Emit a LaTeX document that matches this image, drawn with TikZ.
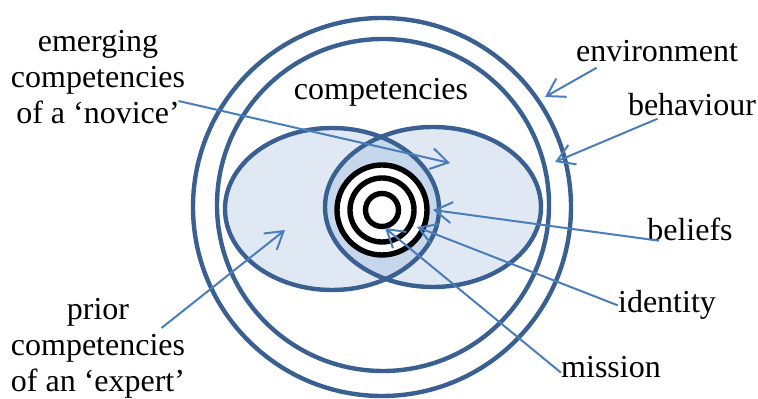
\documentclass[tikz,border=0pt]{standalone}
\usepackage{fontspec}
\setmainfont{Liberation Serif}
\usetikzlibrary{arrows.meta}
\definecolor{ringblue}{RGB}{58,96,146}
\definecolor{arrowblue}{RGB}{74,126,187}
\definecolor{setfill}{RGB}{224,232,244}
\definecolor{lensfill}{RGB}{198,214,235}

\begin{document}
\begin{tikzpicture}[
    x=0.5pt, y=-0.5pt,
    every node/.style={font=\fontsize{16}{18}\selectfont, inner sep=0pt},
    ring/.style={draw=ringblue, line width=2.2pt},
    target/.style={draw=black, line width=2.7pt, fill=white},
    txt/.style={align=center},
    arrow/.style={-{Straight Barb[length=8.5pt,width=10.5pt]}, draw=arrowblue, line width=1pt}
]
\useasboundingbox (0,0) rectangle (758,399);

% environment and behaviour
\draw[ring] (382,207) circle[radius=189];
\draw[ring] (383,205) circle[radius=166];

% the two sets of competencies
\fill[setfill] (332,209) ellipse[x radius=107, y radius=81];
\fill[setfill] (433,207) ellipse[x radius=108, y radius=80];
\begin{scope}
  \clip (332,209) ellipse[x radius=107, y radius=81];
  \fill[lensfill] (433,207) ellipse[x radius=108, y radius=80];
\end{scope}
\draw[ring] (332,209) ellipse[x radius=107, y radius=81];
\draw[ring] (433,207) ellipse[x radius=108, y radius=80];

% beliefs, identity, mission
\draw[target] (382,210) circle[radius=45];
\draw[target] (382,210) circle[radius=32];
\draw[target] (382,210) circle[radius=16.5];

% labels
\node[anchor=base] (comptxt) at (381,100) {competencies};
\node[anchor=base] (envtxt) at (657,62) {environment};
\node[anchor=base] (behtxt) at (692,116) {behaviour};
\node[anchor=base] (beltxt) at (690,241) {beliefs};
\node[anchor=base] (idtxt) at (667,313) {identity};
\node[anchor=base] (mistxt) at (611,378) {mission};
\node[txt] (novice) at (98,77) {emerging\\competencies\\of a ‘novice’};
\node[txt] (expert) at (98,348) {prior\\competencies\\of an ‘expert’};

% arrow tips
\coordinate (novtip) at (450,163);
\coordinate (envtip) at (545,97);
\coordinate (behtip) at (555,162);
\coordinate (beltip) at (433,210);
\coordinate (idtip) at (417,227);
\coordinate (mistip) at (385,228);
\coordinate (exptip) at (285,230);

\draw[arrow] ([xshift=-3.5pt,yshift=-12pt]novice.east) -- (novtip);
\draw[arrow] ([xshift=10.5pt,yshift=-2.5pt]envtxt.south west) -- (envtip);
\draw[arrow] ([xshift=15pt,yshift=-1pt]behtxt.south west) -- (behtip);
\draw[arrow] ([xshift=6pt,yshift=0.5pt]beltxt.south west) -- (beltip);
\draw[arrow] (idtxt.west) -- (idtip);
\draw[arrow] ([yshift=-2.5pt]mistxt.west) -- (mistip);
\draw[arrow] ([xshift=-12pt,yshift=10pt]expert.east) -- (exptip);

\end{tikzpicture}
\end{document}
